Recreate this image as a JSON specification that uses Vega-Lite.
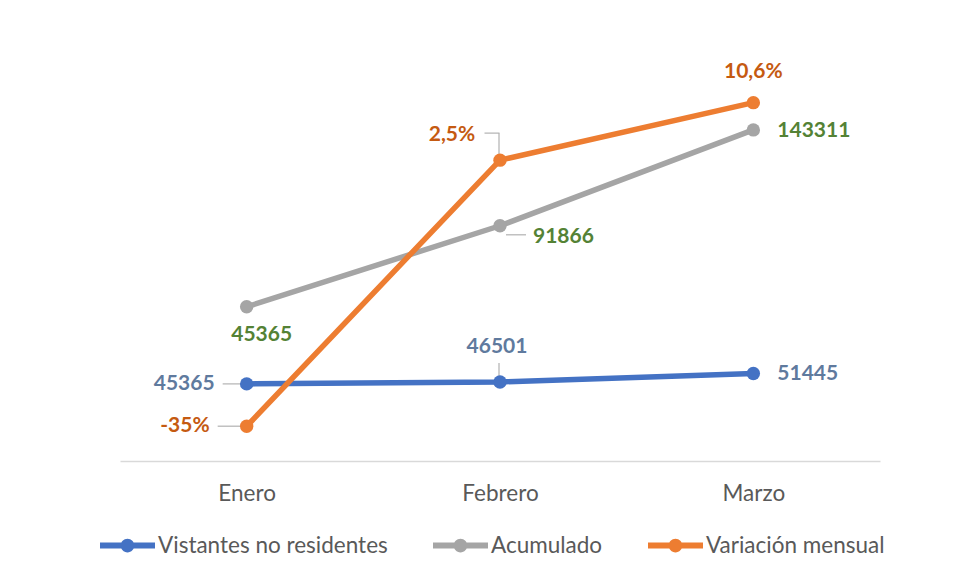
{
  "$schema": "https://vega.github.io/schema/vega-lite/v6.json",
  "width": 760,
  "height": 441,
  "autosize": {"type": "none"},
  "padding": {"left": 120, "top": 20, "right": 75, "bottom": 117},
  "background": "white",
  "config": {
    "view": {"stroke": null},
    "font": "Lato",
    "axis": {"domainColor": "#D9D9D9", "domainWidth": 1.5, "ticks": false, "labelFont": "Lato", "labelFontSize": 22.5, "labelColor": "#595959", "labelPadding": 21, "title": null, "grid": false},
    "legend": {"orient": "none", "legendX": -20, "legendY": 498, "direction": "horizontal", "title": null, "symbolType": "M-1,-0.11H1V0.11H-1Z M0.25,0A0.25,0.25 0 1,1 -0.25,0A0.25,0.25 0 1,1 0.25,0Z", "symbolSize": 3025, "symbolStrokeWidth": 0, "labelFont": "Lato", "labelFontSize": 22.5, "labelColor": "#595959", "labelOffset": 3, "labelLimit": 0, "columnPadding": 45, "padding": 0}
  },
  "datasets": {
    "principal": [
      {"mes": "Enero", "serie": "Vistantes no residentes", "valor": 45365},
      {"mes": "Febrero", "serie": "Vistantes no residentes", "valor": 46501},
      {"mes": "Marzo", "serie": "Vistantes no residentes", "valor": 51445},
      {"mes": "Enero", "serie": "Acumulado", "valor": 45365},
      {"mes": "Febrero", "serie": "Acumulado", "valor": 91866},
      {"mes": "Marzo", "serie": "Acumulado", "valor": 143311}
    ],
    "variacion": [
      {"mes": "Enero", "serie": "Variación mensual", "valor": -0.35, "etiqueta": "-35%"},
      {"mes": "Febrero", "serie": "Variación mensual", "valor": 0.025, "etiqueta": "2,5%"},
      {"mes": "Marzo", "serie": "Variación mensual", "valor": 0.106, "etiqueta": "10,6%"}
    ]
  },
  "encoding": {
    "x": {"field": "mes", "type": "nominal", "sort": ["Enero", "Febrero", "Marzo"], "scale": {"type": "point", "padding": 0.5}, "axis": {"labelAngle": 0, "title": null}}
  },
  "layer": [
    {
      "data": {"name": "principal"},
      "transform": [{"stack": "valor", "groupby": ["mes"], "sort": [{"field": "serie", "order": "descending"}], "as": ["y0", "y1"]}],
      "encoding": {"y": {"field": "y1", "type": "quantitative", "scale": {"domain": [0, 259400]}, "axis": null}},
      "layer": [
        {"transform": [{"filter": "datum.serie === 'Vistantes no residentes' && datum.mes === 'Enero'"}], "mark": {"type": "tick", "orient": "horizontal", "size": 22, "thickness": 1.5, "color": "#A6A6A6", "xOffset": -13}},
        {"transform": [{"filter": "datum.serie === 'Vistantes no residentes' && datum.mes === 'Febrero'"}], "mark": {"type": "tick", "orient": "vertical", "size": 18, "thickness": 1.5, "color": "#A6A6A6", "yOffset": -10, "xOffset": -1}},
        {"transform": [{"filter": "datum.serie === 'Acumulado' && datum.mes === 'Febrero'"}], "mark": {"type": "tick", "orient": "horizontal", "size": 20, "thickness": 1.5, "color": "#A6A6A6", "xOffset": 16, "yOffset": 9}},
        {
          "mark": {"type": "line", "strokeWidth": 5.5, "point": {"filled": true, "size": 180}},
          "encoding": {"color": {"field": "serie", "type": "nominal", "scale": {"domain": ["Vistantes no residentes", "Acumulado", "Variación mensual"], "range": ["#4472C4", "#A5A5A5", "#ED7D31"]}, "legend": {"encode": {"symbols": {"update": {"fill": {"scale": "color", "field": "value"}, "stroke": {"value": "transparent"}}}}}}}
        },
        {"transform": [{"filter": "datum.serie === 'Vistantes no residentes' && datum.mes === 'Enero'"}], "mark": {"type": "text", "align": "right", "baseline": "middle", "dx": -32, "dy": 0, "fontSize": 21, "fontWeight": "bold", "color": "#5F7A9E"}, "encoding": {"text": {"field": "valor", "type": "quantitative", "format": "d"}}},
        {"transform": [{"filter": "datum.serie === 'Vistantes no residentes' && datum.mes === 'Febrero'"}], "mark": {"type": "text", "align": "center", "baseline": "middle", "dx": -3, "dy": -35, "fontSize": 21, "fontWeight": "bold", "color": "#5F7A9E"}, "encoding": {"text": {"field": "valor", "type": "quantitative", "format": "d"}}},
        {"transform": [{"filter": "datum.serie === 'Vistantes no residentes' && datum.mes === 'Marzo'"}], "mark": {"type": "text", "align": "left", "baseline": "middle", "dx": 24, "dy": 0, "fontSize": 21, "fontWeight": "bold", "color": "#5F7A9E"}, "encoding": {"text": {"field": "valor", "type": "quantitative", "format": "d"}}},
        {"transform": [{"filter": "datum.serie === 'Acumulado' && datum.mes === 'Enero'"}], "mark": {"type": "text", "align": "center", "baseline": "middle", "dx": 15, "dy": 28, "fontSize": 21, "fontWeight": "bold", "color": "#548235"}, "encoding": {"text": {"field": "valor", "type": "quantitative", "format": "d"}}},
        {"transform": [{"filter": "datum.serie === 'Acumulado' && datum.mes === 'Febrero'"}], "mark": {"type": "text", "align": "left", "baseline": "middle", "dx": 33, "dy": 11, "fontSize": 21, "fontWeight": "bold", "color": "#548235"}, "encoding": {"text": {"field": "valor", "type": "quantitative", "format": "d"}}},
        {"transform": [{"filter": "datum.serie === 'Acumulado' && datum.mes === 'Marzo'"}], "mark": {"type": "text", "align": "left", "baseline": "middle", "dx": 24, "dy": 1, "fontSize": 21, "fontWeight": "bold", "color": "#548235"}, "encoding": {"text": {"field": "valor", "type": "quantitative", "format": "d"}}}
      ]
    },
    {
      "data": {"name": "variacion"},
      "encoding": {"y": {"field": "valor", "type": "quantitative", "scale": {"domain": [-0.399, 0.2225]}, "axis": null}},
      "layer": [
        {"transform": [{"filter": "datum.mes === 'Enero'"}], "mark": {"type": "tick", "orient": "horizontal", "size": 28, "thickness": 1.5, "color": "#A6A6A6", "xOffset": -15}},
        {"transform": [{"filter": "datum.mes === 'Febrero'"}], "mark": {"type": "tick", "orient": "horizontal", "size": 15, "thickness": 1.5, "color": "#A6A6A6", "xOffset": -8, "yOffset": -27}},
        {"transform": [{"filter": "datum.mes === 'Febrero'"}], "mark": {"type": "tick", "orient": "vertical", "size": 27, "thickness": 1.5, "color": "#A6A6A6", "xOffset": -1, "yOffset": -13.5}},
        {
          "mark": {"type": "line", "strokeWidth": 5.5, "point": {"filled": true, "size": 180}},
          "encoding": {"color": {"field": "serie", "type": "nominal"}}
        },
        {"transform": [{"filter": "datum.mes === 'Enero'"}], "mark": {"type": "text", "align": "right", "baseline": "middle", "dx": -37, "dy": 0, "fontSize": 21, "fontWeight": "bold", "color": "#C55A11"}, "encoding": {"text": {"field": "etiqueta", "type": "nominal"}}},
        {"transform": [{"filter": "datum.mes === 'Febrero'"}], "mark": {"type": "text", "align": "center", "baseline": "middle", "dx": -48, "dy": -25, "fontSize": 21, "fontWeight": "bold", "color": "#C55A11"}, "encoding": {"text": {"field": "etiqueta", "type": "nominal"}}},
        {"transform": [{"filter": "datum.mes === 'Marzo'"}], "mark": {"type": "text", "align": "center", "baseline": "middle", "dx": 0, "dy": -31, "fontSize": 21, "fontWeight": "bold", "color": "#C55A11"}, "encoding": {"text": {"field": "etiqueta", "type": "nominal"}}}
      ]
    }
  ],
  "resolve": {"scale": {"y": "independent"}}
}
